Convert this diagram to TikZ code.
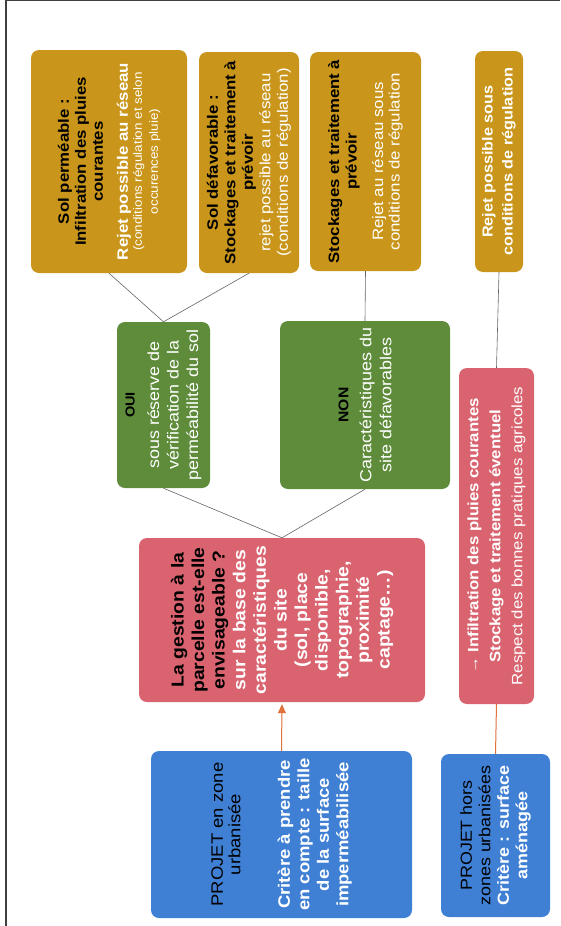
\documentclass[tikz,border=0pt]{standalone}
\usepackage{fontspec}
\usetikzlibrary{arrows.meta}
\setmainfont[FakeStretch=1.12]{Liberation Sans}
\definecolor{goldfill}{RGB}{201,150,27}
\definecolor{greenfill}{RGB}{94,140,58}
\definecolor{pinkfill}{RGB}{217,100,111}
\definecolor{bluefill}{RGB}{63,128,212}
\definecolor{linkgrey}{RGB}{100,100,100}
\definecolor{linkorange}{RGB}{224,112,60}
\newcommand{\titre}[1]{\textcolor{black}{\textbf{#1}}}

\begin{document}
\begin{tikzpicture}[x=1pt, y=-1pt,
    box/.style={rotate=90, rounded corners=8pt, align=center, inner sep=2pt, text=white},
    goldbox/.style={box, fill=goldfill},
    greenbox/.style={box, fill=greenfill},
    pinkbox/.style={box, fill=pinkfill},
    bluebox/.style={box, fill=bluefill},
    link/.style={draw=linkgrey, line width=0.6pt}]
    \useasboundingbox (0,0) rectangle (560,926);
    \draw[line width=1.2pt, black!75] (6,926) -- (6,0.6) -- (560,0.6);

    \node[goldbox, minimum width=223pt, minimum height=156pt, font=\fontsize{15}{17}\selectfont](permeable) at (109, 161.5)
        {\titre{Sol perméable :}\\ \titre{Infiltration des pluies}\\ \titre{courantes}\\[8pt]
         \textbf{Rejet possible au réseau}\\[-3pt]
         {\fontsize{12}{14}\selectfont (conditions régulation et selon}\\[-1pt]
         {\fontsize{12}{14}\selectfont occurences pluie)}};
    \node[goldbox, minimum width=221pt, minimum height=100pt, font=\fontsize{15}{17.5}\selectfont](defavorable) at (249, 162.5)
        {\titre{Sol défavorable :}\\ \titre{Stockages et traitement à}\\ \titre{prévoir}\\
         rejet possible au réseau\\ (conditions de régulation)};
    \node[goldbox, minimum width=219pt, minimum height=111pt, font=\fontsize{15}{17.5}\selectfont](stockage) at (365.5, 161.5)
        {\titre{Stockages et traitement à}\\ \titre{prévoir}\\[9pt]
         Rejet au réseau sous\\[-1pt] conditions de régulation};
    \node[goldbox, minimum width=221pt, minimum height=48pt, font=\fontsize{14.5}{20}\selectfont\bfseries](rejet) at (499, 161.5)
        {Rejet possible sous\\ conditions de régulation};

    \node[greenbox, minimum width=166pt, minimum height=93pt, font=\fontsize{16}{19.5}\selectfont](oui) at (163.5, 405)
        {{\fontsize{13}{15}\selectfont\titre{OUI}}\\[5pt]
         sous réserve de\\ vérification de la\\ perméabilité du sol};
    \node[greenbox, minimum width=168pt, minimum height=170pt, font=\fontsize{16}{20}\selectfont](non) at (365, 405)
        {{\fontsize{14}{16}\selectfont\titre{NON}}\\[3pt]
         Caractéristiques du\\ site défavorables};

    \node[pinkbox, minimum width=164pt, minimum height=286pt, font=\fontsize{17.3}{20.6}\selectfont](gestion) at (282, 620)
        {\titre{La gestion à la}\\ \titre{parcelle est-elle}\\ \titre{envisageable ?}\\
         \textbf{sur la base des}\\ \textbf{caractéristiques}\\ \textbf{du site}\\
         \textbf{(sol, place}\\ \textbf{disponible,}\\ \textbf{topographie,}\\
         \textbf{proximité}\\ \textbf{captage…)}};
    \node[pinkbox, minimum width=336pt, minimum height=75pt, font=\fontsize{15}{22}\selectfont](agricole) at (496.5, 536)
        {\textbf{→ Infiltration des pluies courantes}\\
         \textbf{Stockage et traitement éventuel}\\
         Respect des bonnes pratiques agricoles};

    \node[bluebox, minimum width=167pt, minimum height=261pt, font=\fontsize{16.5}{19.5}\selectfont](urbaine) at (281.5, 834.5)
        {\textcolor{black}{PROJET en zone}\\[-2pt] \textcolor{black}{urbanisée}\\[30pt]
         \textbf{Critère à prendre}\\ \textbf{en compte : taille}\\
         \textbf{de la surface}\\ \textbf{imperméabilisée}};
    \node[bluebox, minimum width=163pt, minimum height=109pt, font=\fontsize{16}{18.5}\selectfont](hors) at (495.5, 835.5)
        {\textcolor{black}{PROJET hors}\\ \textcolor{black}{zones urbanisées}\\
         \textbf{Critère : surface}\\ \textbf{aménagée}};

    \draw[link] (permeable.west) -- (oui.east);
    \draw[link] (defavorable.west) -- (oui.east);
    \draw[link] (stockage.west) -- (non.east);
    \draw[link] (rejet.west) -- (agricole.east);
    \draw[link] (oui.west) -- (gestion.east);
    \draw[link] (non.west) -- (gestion.east);
    \draw[-{Triangle[length=9pt, width=8pt]}, draw=linkorange, fill=linkorange, line width=1pt] (urbaine.east) -- ([yshift=-2pt]gestion.west);
    \draw[draw=linkorange, line width=1pt] (hors.east) -- (agricole.west);
\end{tikzpicture}
\end{document}
